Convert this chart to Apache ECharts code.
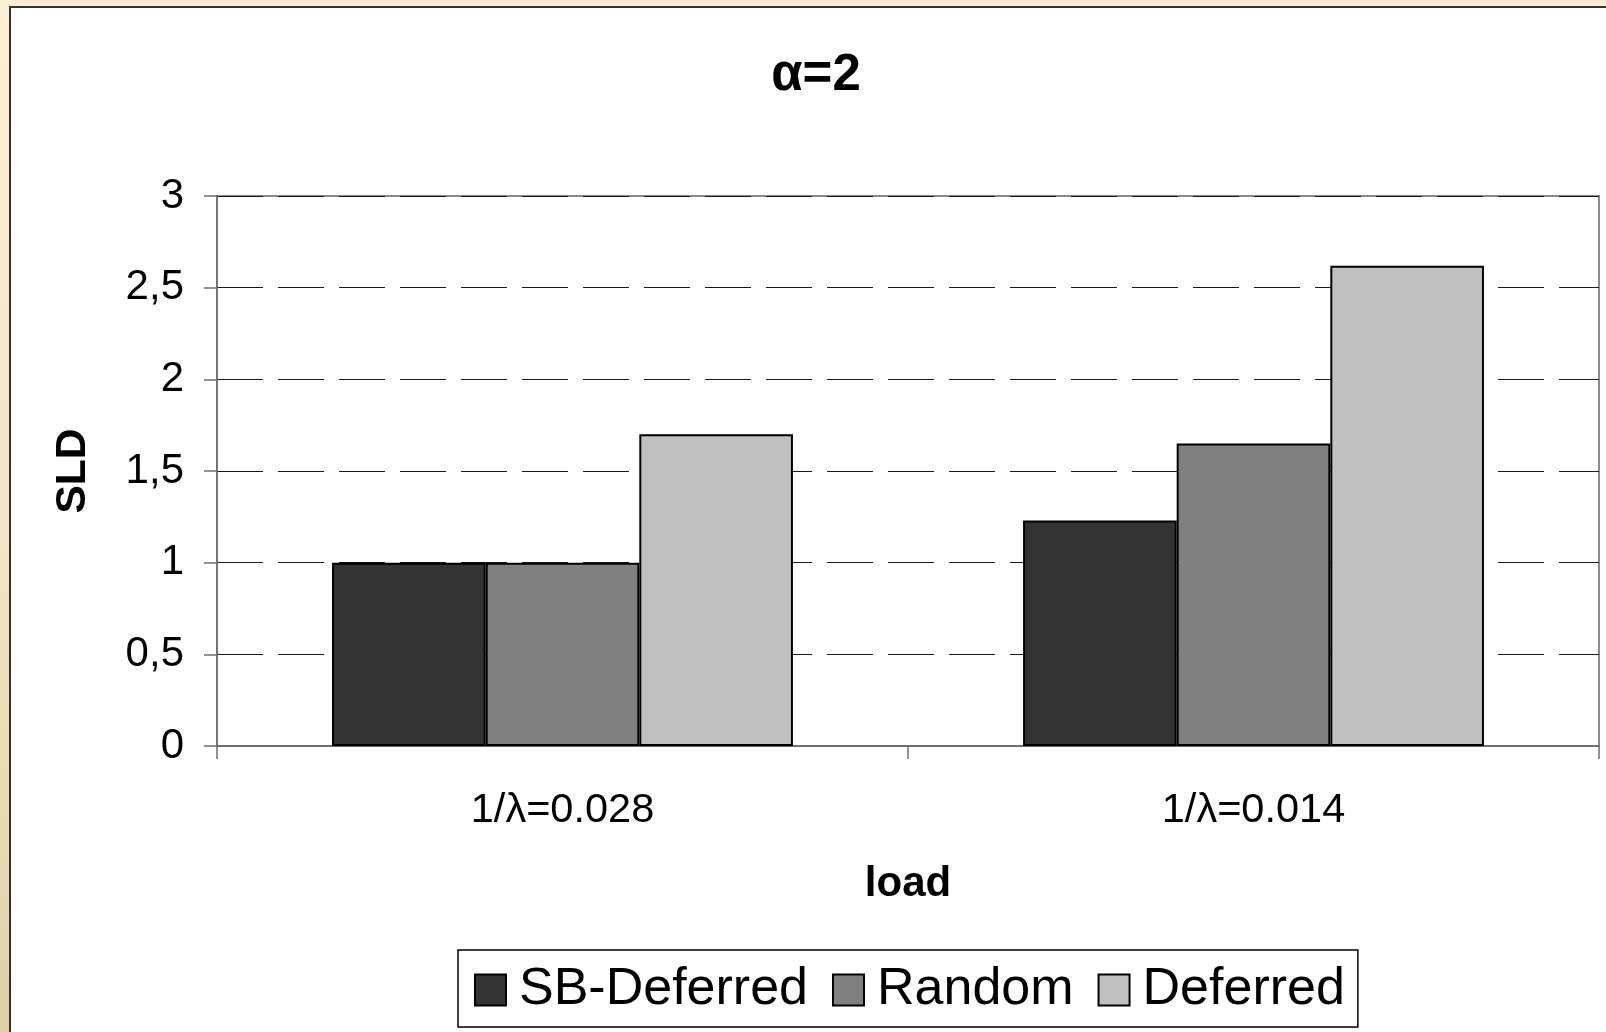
<!DOCTYPE html>
<html>
<head>
<meta charset="utf-8">
<title>α=2</title>
<script src="https://cdn.jsdelivr.net/npm/echarts@6/dist/echarts.min.js"></script>
<style>
  html, body { margin: 0; padding: 0; width: 1606px; height: 1032px; overflow: hidden; }
  body { background: linear-gradient(to bottom, #fcefd4 0%, #f3e6c6 50%, #ded1a9 100%); position: relative; }
  #frame { position: absolute; left: 9px; top: 6px; width: 1620px; height: 1050px;
           background: #ffffff; border-left: 2px solid #333333; border-top: 2px solid #333333; box-sizing: border-box; }
  #chart { position: absolute; left: 0; top: 0; width: 1606px; height: 1032px; }
</style>
</head>
<body>
<div id="frame"></div>
<div id="chart"></div>
<script>
// Slowdown (SLD) per load level, alpha = 2
const categories = ['1/λ=0.028', '1/λ=0.014'];
const seriesNames = ['SB-Deferred', 'Random', 'Deferred'];
const sbDeferred = [1.0, 1.23];
const random = [1.0, 1.65];
const deferred = [1.7, 2.62];
const yTickLabels = ['0', '0,5', '1', '1,5', '2', '2,5', '3'];

const FONT = "'Liberation Sans', Arial, sans-serif";
const fills = ['#333333', '#808080', '#c0c0c0'];
const values = [sbDeferred, random, deferred];

const chart = echarts.init(document.getElementById('chart'), null, { renderer: 'canvas' });

chart.setOption({
  backgroundColor: 'transparent',
  animation: false,
  textStyle: { fontFamily: FONT, color: '#000' },
  title: {
    text: 'α=2',
    left: 811,
    textAlign: 'center',
    top: 45,
    textStyle: { fontFamily: FONT, fontSize: 51, fontWeight: 'bold', color: '#000' }
  },
  grid: {
    left: 217, top: 196, width: 1382, height: 550,
    show: true, borderColor: '#8a8a8a', borderWidth: 2, backgroundColor: 'transparent'
  },
  legend: {
    data: seriesNames,
    left: 458,
    top: 950,
    orient: 'horizontal',
    icon: 'rect',
    itemWidth: 31,
    itemHeight: 31,
    itemGap: 24,
    padding: [14, 13, 11, 16],
    borderColor: '#000',
    borderWidth: 1.5,
    backgroundColor: '#fff',
    textStyle: { fontFamily: FONT, fontSize: 52, color: '#000', padding: [0, 0, 0, 8] },
    selectedMode: false
  },
  xAxis: {
    type: 'category',
    data: categories,
    name: 'load',
    nameLocation: 'middle',
    nameGap: 117,
    nameTextStyle: { fontFamily: FONT, fontSize: 42, fontWeight: 'bold', color: '#000' },
    axisLine: { lineStyle: { color: '#6e6e6e', width: 2 } },
    axisTick: { show: true, length: 13, lineStyle: { color: '#6e6e6e', width: 1.5 } },
    axisLabel: { margin: 44, fontFamily: FONT, fontSize: 41.5, color: '#000' },
    splitLine: { show: false }
  },
  yAxis: {
    type: 'value',
    min: 0,
    max: 3,
    interval: 0.5,
    name: 'SLD',
    nameLocation: 'middle',
    nameRotate: 90,
    nameGap: 122,
    nameTextStyle: { fontFamily: FONT, fontSize: 42.5, fontWeight: 'bold', color: '#000' },
    axisLine: { show: true, lineStyle: { color: '#6e6e6e', width: 1.5 } },
    axisTick: { show: true, length: 13, lineStyle: { color: '#6e6e6e', width: 1.5 } },
    axisLabel: {
      margin: 33, fontFamily: FONT, fontSize: 42, color: '#000',
      formatter: function (v) { return yTickLabels[Math.round(v / 0.5)]; }
    },
    splitLine: { show: true, lineStyle: { color: '#1a1a1a', width: 1, type: [46, 15] } }
  },
  series: seriesNames.map(function (name, i) {
    return {
      name: name,
      type: 'bar',
      data: values[i],
      barGap: '0%',
      barCategoryGap: '33.3%',
      itemStyle: { color: fills[i], borderColor: '#000', borderWidth: 2 },
      emphasis: { disabled: true }
    };
  })
});
</script>
</body>
</html>
